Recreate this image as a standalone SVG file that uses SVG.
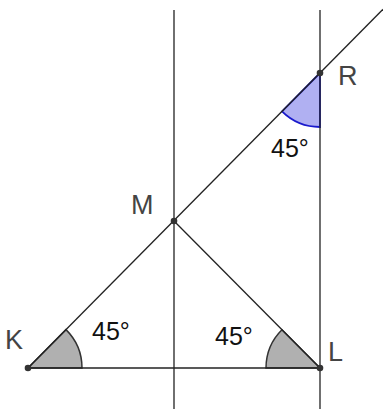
<svg xmlns="http://www.w3.org/2000/svg" width="383" height="409" viewBox="0 0 383 409">
<style>
.ln{stroke:#222;stroke-width:1.3;fill:none}
.ang{fill:#b0b0b0;stroke:#333;stroke-width:1.5}
.angb{fill:#b0b0f2;stroke:#1a1acc;stroke-width:1.8}
.pt{fill:#333}
.lab{font-family:"Liberation Sans",Arial,sans-serif;font-size:27px;fill:#444}
.deg{font-family:"Liberation Sans",Arial,sans-serif;font-size:25px;fill:#111}
</style>
<rect width="383" height="409" fill="#fff"/>
<g id="angles">
<path class="ang" d="M28,368 L82,368 A54,54 0 0 0 65.98,329.6 Z"/>
<path class="ang" d="M320,368 L266,368 A54,54 0 0 1 281.95,329.7 Z"/>
<path class="angb" d="M320,73 L282,111.4 A54,54 0 0 0 320,127 Z"/>
</g>
<g id="connectors">
<line class="ln" x1="174" y1="10" x2="174" y2="409"/>
<line class="ln" x1="320" y1="10" x2="320" y2="409"/>
<line class="ln" x1="28" y1="368" x2="383" y2="9.3"/>
<line class="ln" x1="28" y1="368" x2="320" y2="368"/>
<line class="ln" x1="174" y1="221" x2="320" y2="368"/>
</g>
<g id="K"><circle class="pt" cx="28" cy="368" r="3.3"/><text class="lab" x="5" y="349">K</text></g>
<g id="L"><circle class="pt" cx="320" cy="368" r="3.3"/><text class="lab" x="328" y="361">L</text></g>
<g id="M"><circle class="pt" cx="174" cy="221" r="3.3"/><text class="lab" x="131" y="214">M</text></g>
<g id="R"><circle class="pt" cx="320" cy="73" r="3.3"/><text class="lab" x="338" y="85">R</text></g>
<g id="labels">
<text class="deg" x="92" y="340">45°</text>
<text class="deg" x="215" y="345">45°</text>
<text class="deg" x="271" y="157">45°</text>
</g>
</svg>
